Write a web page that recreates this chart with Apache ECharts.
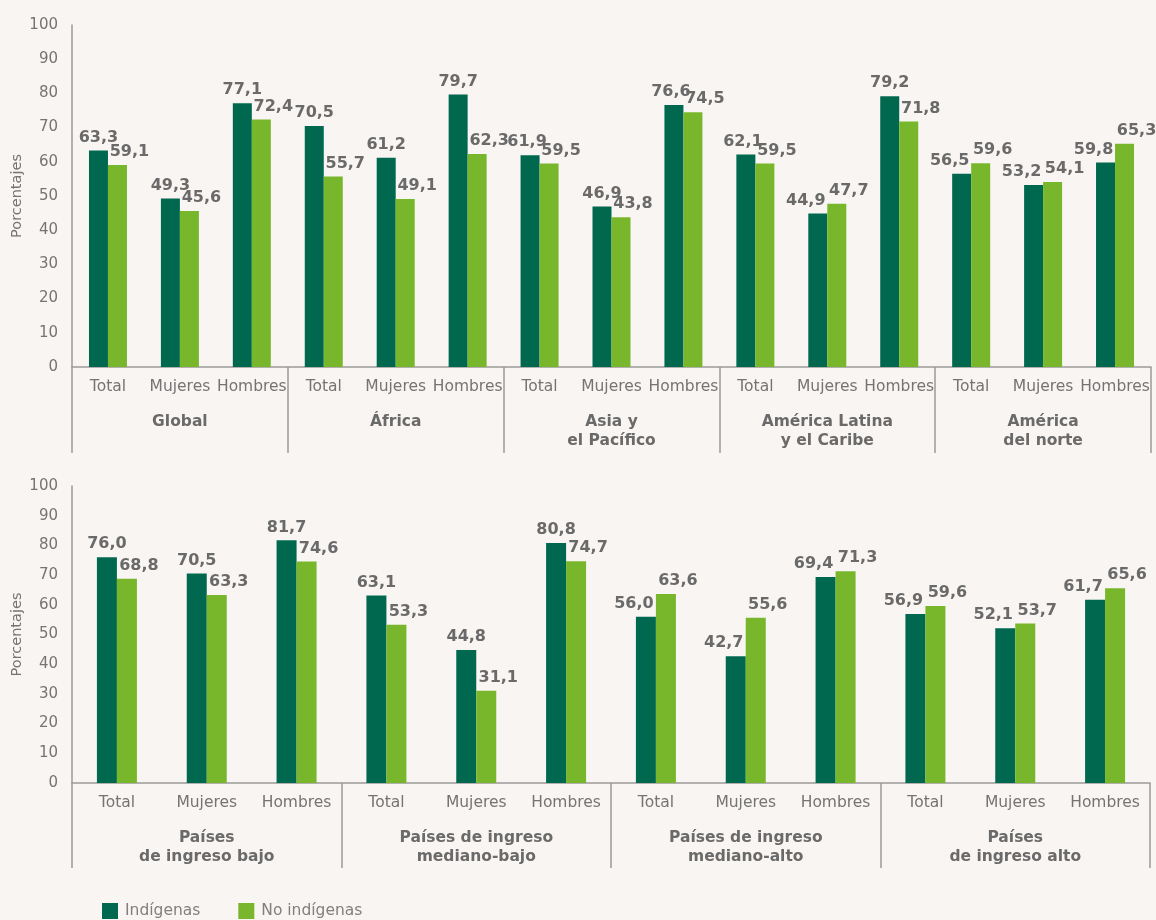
<!DOCTYPE html>
<html>
<head>
<meta charset="utf-8">
<script src="https://cdn.jsdelivr.net/npm/echarts@6/dist/echarts.min.js"></script>
<style>
html,body{margin:0;padding:0;background:#f9f5f2;}
#chart{width:1156px;height:920px;}
</style>
</head>
<body>
<div id="chart"></div>
<script>
const subCats = ["Total", "Mujeres", "Hombres"];
const topGroups = ["Global", "África", "Asia y\nel Pacífico", "América Latina\ny el Caribe", "América\ndel norte"];
const topIndigenas = [63.3, 49.3, 77.1, 70.5, 61.2, 79.7, 61.9, 46.9, 76.6, 62.1, 44.9, 79.2, 56.5, 53.2, 59.8];
const topNoIndigenas = [59.1, 45.6, 72.4, 55.7, 49.1, 62.3, 59.5, 43.8, 74.5, 59.5, 47.7, 71.8, 59.6, 54.1, 65.3];
const botGroups = ["Países\nde ingreso bajo", "Países de ingreso\nmediano-bajo", "Países de ingreso\nmediano-alto", "Países\nde ingreso alto"];
const botIndigenas = [76.0, 70.5, 81.7, 63.1, 44.8, 80.8, 56.0, 42.7, 69.4, 56.9, 52.1, 61.7];
const botNoIndigenas = [68.8, 63.3, 74.6, 53.3, 31.1, 74.7, 63.6, 55.6, 71.3, 59.6, 53.7, 65.6];
const seriesNames = ["Indígenas", "No indígenas"];
const yTicks = {min: 0, max: 100, interval: 10};

const DARK = "#00684f", LIGHT = "#78b72b", TXT = "#747474", AX = "#9a9a9a";
const FONT = "DejaVu Sans";

function expand(groups) {
  const out = [];
  groups.forEach(() => subCats.forEach(s => out.push(s)));
  return out;
}

function xAxesFor(gridIndex, groups, tickLen) {
  return [
    {
      type: "category", gridIndex, data: expand(groups), position: "bottom",
      axisLine: {show: true, lineStyle: {color: AX, width: 1.5}},
      axisTick: {show: false},
      axisLabel: {interval: 0, hideOverlap: false, margin: 12, color: TXT, fontSize: 15.5, fontFamily: FONT}
    },
    {
      type: "category", gridIndex, data: groups, position: "bottom",
      axisLine: {show: false},
      axisTick: {show: true, interval: 0, length: tickLen, lineStyle: {color: AX, width: 1.5}},
      axisLabel: {interval: 0, margin: 45, color: "#6a6a6a", fontSize: 15.5, fontWeight: "bold", fontFamily: FONT, lineHeight: 19}
    }
  ];
}

function yAxisFor(gridIndex) {
  return {
    type: "value", gridIndex, min: yTicks.min, max: yTicks.max, interval: yTicks.interval,
    name: "Porcentajes", nameLocation: "middle", nameGap: 47, nameRotate: 90, nameMoveOverlap: false,
    nameTextStyle: {color: TXT, fontSize: 14.5, fontFamily: FONT},
    axisLine: {show: true, lineStyle: {color: AX, width: 1.5}},
    axisTick: {show: false},
    splitLine: {show: false},
    axisLabel: {margin: 14, color: TXT, fontSize: 15, fontFamily: FONT}
  };
}

const fmt = p => p.value.toFixed(1).replace(".", ",");

function barSeries(name, data, other, isDark, xIdx, yIdx, bw) {
  return {
    name, type: "bar", data, xAxisIndex: xIdx, yAxisIndex: yIdx,
    barWidth: bw, barGap: "0%",
    itemStyle: {color: isDark ? DARK : LIGHT},
    label: {show: true, position: "top", distance: 5, formatter: fmt,
      color: "#6a6a6a", fontSize: 16, fontWeight: "bold", fontFamily: FONT},
    labelLayout: function (p) {
      if (!isDark) return {dx: 12};
      const v = data[p.dataIndex], o = other[p.dataIndex];
      return {dx: o >= v ? -12 : (v - o < 3 ? -3 : 0)};
    }
  };
}

const chart = echarts.init(document.getElementById("chart"));
chart.setOption({
  backgroundColor: "#f9f5f2",
  animation: false,
  textStyle: {fontFamily: FONT},
  grid: [
    {left: 72, top: 25, width: 1079, height: 342, outerBoundsMode: "none", containLabel: false},
    {left: 72, top: 486, width: 1078, height: 297, outerBoundsMode: "none", containLabel: false}
  ],
  xAxis: [...xAxesFor(0, topGroups, 86), ...xAxesFor(1, botGroups, 85)],
  yAxis: [yAxisFor(0), yAxisFor(1)],
  legend: {
    left: 97, top: 898, itemWidth: 16, itemHeight: 16, itemGap: 38,
    icon: "rect",
    data: seriesNames,
    textStyle: {color: "#808080", fontSize: 15.5, fontFamily: FONT, padding: [0, 0, 0, 2]}
  },
  series: [
    barSeries(seriesNames[0], topIndigenas, topNoIndigenas, true, 0, 0, 19),
    barSeries(seriesNames[1], topNoIndigenas, topIndigenas, false, 0, 0, 19),
    barSeries(seriesNames[0], botIndigenas, botNoIndigenas, true, 2, 1, 20),
    barSeries(seriesNames[1], botNoIndigenas, botIndigenas, false, 2, 1, 20)
  ]
});
</script>
</body>
</html>
